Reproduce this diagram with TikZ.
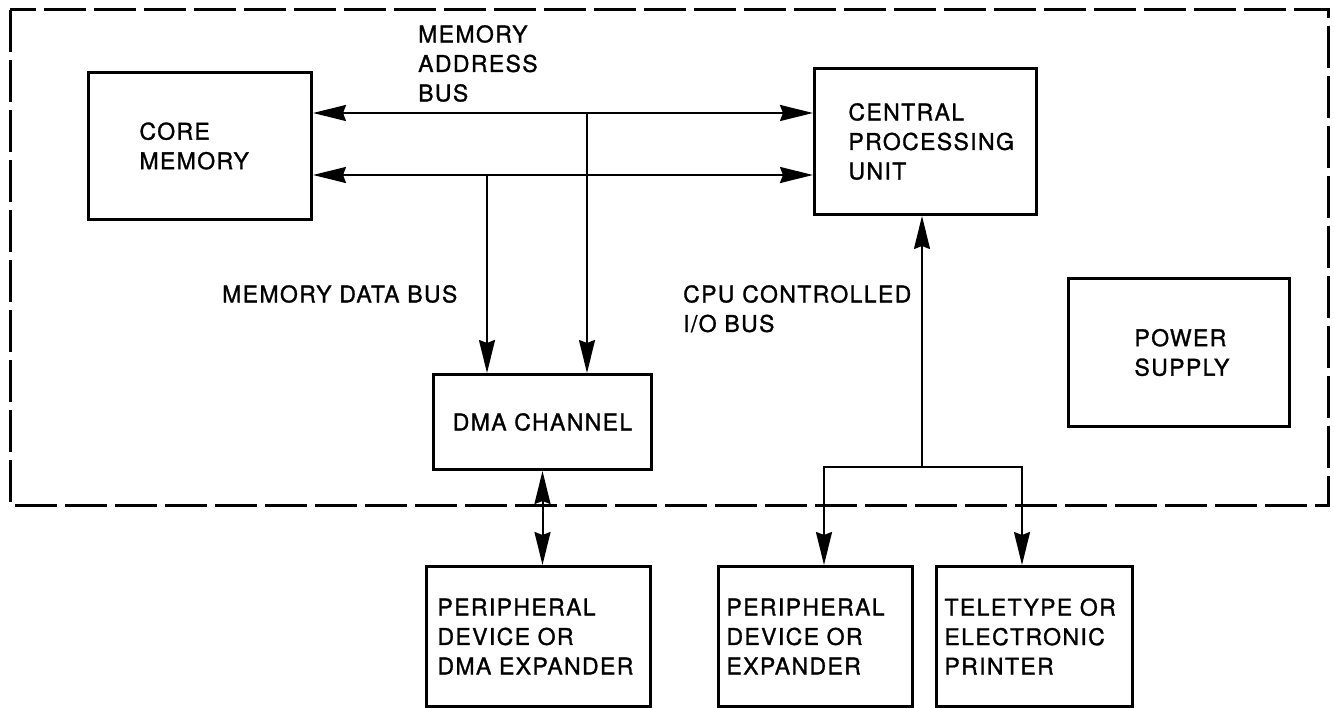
\documentclass[tikz,border=0pt]{standalone}
\usepackage{fontspec}
\setmainfont[LetterSpace=6, FakeBold=1.2]{TeX Gyre Heros}
\usetikzlibrary{arrows.meta}

\tikzset{
  every node/.style={font=\fontsize{23}{29.5}\selectfont, inner sep=0pt},
  box/.style={draw, line width=3pt, anchor=north west, align=left},
  lbl/.style={anchor=north west, align=left},
  bus/.style={line width=2pt},
  headtip/.tip={Stealth[length=33pt,width=16pt,inset=3pt]},
  onetip/.style={-headtip},
  twotip/.style={headtip-headtip},
  frame/.style={line width=3pt, dash pattern=on 42pt off 8pt},
}

\begin{document}
\begin{tikzpicture}[x=1pt,y=-1pt]
\useasboundingbox (0,0) rectangle (1334,708);

% system enclosure
\draw[frame] (10,10) rectangle (1328,505);

% functional blocks
\node[box, minimum height=147pt, text width=121pt, inner xsep=51pt] (core) at (87,71) {CORE\\MEMORY};
\node[box, minimum height=146pt, text width=154pt, inner xsep=34pt] (cpu) at (813,67) {CENTRAL\\PROCESSING\\UNIT};
\node[box, minimum height=95pt, text width=218pt, align=center] (dma) at (432,373) {DMA CHANNEL};
\node[box, minimum height=148pt, text width=89pt, inner xsep=66pt] (psu) at (1067,277) {POWER\\SUPPLY};

% external devices
\node[box, minimum height=140pt, text width=202pt, inner xsep=11pt] (pdma) at (425,565) {PERIPHERAL\\DEVICE OR\\DMA EXPANDER};
\node[box, minimum height=140pt, text width=178pt, inner xsep=8pt] (pexp) at (717,565) {PERIPHERAL\\DEVICE OR\\EXPANDER};
\node[box, minimum height=140pt, text width=180pt, inner xsep=8pt] (tty) at (935,565) {TELETYPE OR\\ELECTRONIC\\PRINTER};

% bus labels
\node[lbl] (mablbl) at (418,25) {MEMORY\\ADDRESS\\BUS};
\node[lbl] (mdblbl) at (222,285) {MEMORY DATA BUS};
\node[lbl] (iolbl) at (683,285) {CPU CONTROLLED\\I/O BUS};

% bus routing points
\coordinate (ab) at (0,113);
\coordinate (db) at (0,175);
\coordinate (abtap) at (587,113);
\coordinate (dbtap) at (487,175);
\coordinate (iohub) at (922,467);
\coordinate (iol) at (824,467);
\coordinate (ior) at (1022,467);

% memory address and data buses
\draw[bus, twotip] (core.east |- ab) -- (cpu.west |- ab);
\draw[bus, twotip] (core.east |- db) -- (cpu.west |- db);
\draw[bus, onetip] (abtap) -- (abtap |- dma.north);
\draw[bus, onetip] (dbtap) -- (dbtap |- dma.north);

% DMA link to external device
\draw[bus, twotip] (dma.south) -- (dma.south |- pdma.north);

% CPU controlled I/O bus
\draw[bus, onetip] (iohub) -- (iohub |- cpu.south);
\draw[bus, onetip] (iohub) -- (iol) -- (iol |- pexp.north);
\draw[bus, onetip] (iohub) -- (ior) -- (ior |- tty.north);
\end{tikzpicture}
\end{document}
